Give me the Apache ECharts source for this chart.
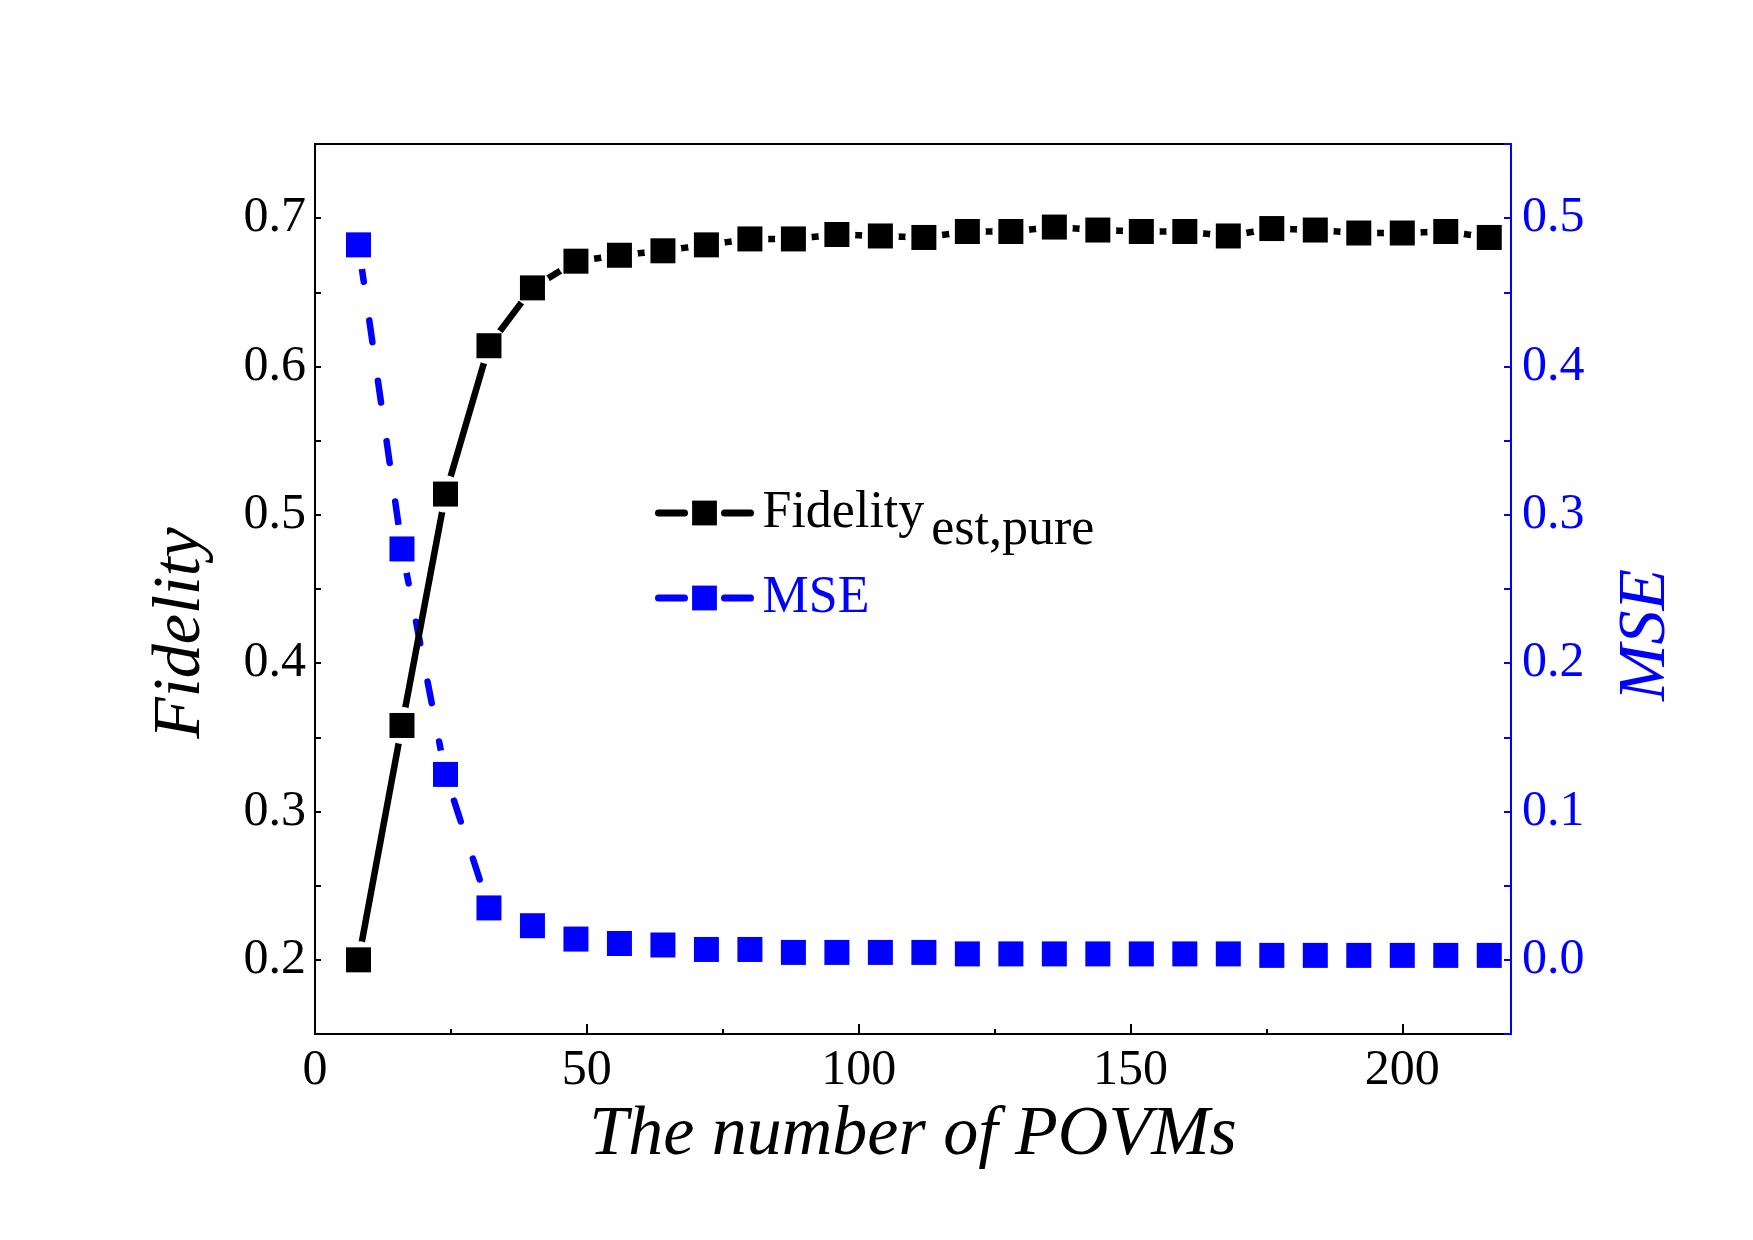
<!DOCTYPE html>
<html>
<head>
<meta charset="utf-8">
<script src="https://cdn.jsdelivr.net/npm/echarts@6/dist/echarts.min.js"></script>
<style>
html,body{margin:0;padding:0;background:#fff;}
#chart{width:1753px;height:1240px;}
</style>
</head>
<body>
<div id="chart"></div>
<script>
// ---- data ----
const povms = [8,16,24,32,40,48,56,64,72,80,88,96,104,112,120,128,136,144,152,160,168,176,184,192,200,208,216];
const fidelity = [0.200,0.358,0.514,0.614,0.653,0.671,0.675,0.678,0.682,0.686,0.686,0.689,0.688,0.687,0.691,0.691,0.694,0.692,0.691,0.691,0.688,0.693,0.692,0.690,0.690,0.691,0.687];
const mse = [0.482,0.277,0.125,0.035,0.023,0.014,0.011,0.010,0.007,0.007,0.005,0.005,0.005,0.005,0.004,0.004,0.004,0.004,0.004,0.004,0.004,0.003,0.003,0.003,0.003,0.003,0.003];
const xTickLabels = [0,50,100,150,200];
const fidTickLabels = [0.2,0.3,0.4,0.5,0.6,0.7];
const mseTickLabels = [0,0.1,0.2,0.3,0.4,0.5];

const FONT = "'Liberation Serif','Times New Roman',serif";
const BLUE = '#0000ff';
const BLACK = '#000000';

const fidPts = povms.map((x, i) => [x, fidelity[i]]);
const msePts = povms.map((x, i) => [x, mse[i]]);

function roundLabel(v, list) {
  const r = Math.round(v * 100) / 100;
  return list.includes(r) ? r.toFixed(1) : '';
}

const legendLine = {type: [26, 40], dashOffset: 0, cap: 'round', width: 7};

const chart = echarts.init(document.getElementById('chart'), null, {renderer: 'canvas'});
chart.setOption({
  animation: false,
  backgroundColor: '#ffffff',
  grid: {
    left: 315, right: 242, top: 144, bottom: 206,
    containLabel: false, outerBoundsMode: 'none',
    show: true, borderColor: BLACK, borderWidth: 2, backgroundColor: 'transparent'
  },
  legend: {
    show: true, orient: 'vertical', left: 655, top: 470, padding: 0,
    itemGap: 16, itemWidth: 92, itemHeight: 31,
    selectedMode: false,
    data: [
      {name: 'Fidelity', lineStyle: Object.assign({color: BLACK}, legendLine)},
      {name: 'MSE', lineStyle: Object.assign({color: BLUE}, legendLine)}
    ],
    lineStyle: legendLine,
    formatter: function (n) {
      return n === 'Fidelity' ? '{a|Fidelity}{b|est,pure}' : '{m|MSE}';
    },
    textStyle: {
      fontFamily: FONT,
      rich: {
        a: {fontFamily: FONT, fontSize: 52, lineHeight: 52, color: BLACK, padding: [17, 0, 17, 7]},
        b: {fontFamily: FONT, fontSize: 52, lineHeight: 52, color: BLACK, padding: [34, 0, 0, 7]},
        m: {fontFamily: FONT, fontSize: 52, lineHeight: 52, color: BLUE, padding: [0, 0, 0, 7]}
      }
    }
  },
  xAxis: [
    {
      type: 'value', min: 0, max: 220, interval: 50, position: 'bottom', z: 10,
      axisLine: {show: true, onZero: false, lineStyle: {color: BLACK, width: 2}},
      axisTick: {show: true, inside: true, length: 10, lineStyle: {color: BLACK, width: 2}},
      axisLabel: {fontFamily: FONT, fontSize: 50, color: BLACK, margin: 12,
        formatter: v => xTickLabels.includes(v) ? String(v) : ''},
      splitLine: {show: false},
      name: 'The number of POVMs', nameLocation: 'middle', nameGap: 66,
      nameTextStyle: {fontFamily: FONT, fontStyle: 'italic', fontSize: 70, color: BLACK}
    },
    {
      type: 'value', min: 0, max: 220, interval: 25, position: 'bottom', z: 10,
      axisLine: {show: false, onZero: false},
      axisTick: {show: true, inside: true, length: 5, lineStyle: {color: BLACK, width: 2}},
      axisLabel: {show: false},
      splitLine: {show: false}
    }
  ],
  yAxis: [
    {
      type: 'value', min: 0.15, max: 0.75, interval: 0.05, position: 'left', z: 10,
      axisLine: {show: true, onZero: false, lineStyle: {color: BLACK, width: 2}},
      axisTick: {show: true, inside: true, length: 6, lineStyle: {color: BLACK, width: 2}},
      axisLabel: {fontFamily: FONT, fontSize: 50, color: BLACK, margin: 9,
        formatter: v => roundLabel(v, fidTickLabels)},
      splitLine: {show: false},
      name: 'Fidelity', nameLocation: 'middle', nameGap: 100, nameRotate: 90,
      nameTextStyle: {fontFamily: FONT, fontStyle: 'italic', fontSize: 68, color: BLACK, padding: [0, 88, 0, 0]}
    },
    {
      type: 'value', min: -0.05, max: 0.55, interval: 0.05, position: 'right', z: 11,
      axisLine: {show: true, onZero: false, lineStyle: {color: BLUE, width: 2}},
      axisTick: {show: true, inside: true, length: 7, lineStyle: {color: BLUE, width: 2}},
      axisLabel: {fontFamily: FONT, fontSize: 50, color: BLUE, margin: 11,
        formatter: v => roundLabel(v, mseTickLabels)},
      splitLine: {show: false},
      name: 'MSE', nameLocation: 'middle', nameGap: 101, nameRotate: 90,
      nameTextStyle: {fontFamily: FONT, fontStyle: 'italic', fontSize: 68, color: BLUE, padding: [0, 92, 0, 0]}
    }
  ],
  series: [
    {
      name: 'MSE', type: 'line', xAxisIndex: 0, yAxisIndex: 1, data: msePts, z: 2,
      symbol: 'rect', symbolSize: 25, showSymbol: true,
      itemStyle: {color: BLUE, opacity: 1},
      lineStyle: {color: BLUE, width: 6.5, type: [22, 39], dashOffset: 45.75, cap: 'round'},
      emphasis: {disabled: true}
    },
    {
      name: 'Fidelity', type: 'line', xAxisIndex: 0, yAxisIndex: 0, data: fidPts, z: 3,
      symbol: 'rect', symbolSize: 25, showSymbol: true,
      itemStyle: {color: BLACK, opacity: 1},
      lineStyle: {color: BLACK, width: 6.5, type: 'solid', cap: 'round'},
      emphasis: {disabled: true}
    },
    {
      name: 'fidHalo', type: 'scatter', xAxisIndex: 0, yAxisIndex: 0, data: fidPts, z: 4, silent: true,
      symbol: 'circle', symbolSize: 37, itemStyle: {color: '#ffffff', opacity: 1}, emphasis: {disabled: true}
    },
    {
      name: 'mseHalo', type: 'scatter', xAxisIndex: 0, yAxisIndex: 1, data: msePts, z: 4, silent: true,
      symbol: 'circle', symbolSize: 49, itemStyle: {color: '#ffffff', opacity: 1}, emphasis: {disabled: true}
    },
    {
      name: 'fidMarks', type: 'scatter', xAxisIndex: 0, yAxisIndex: 0, data: fidPts, z: 5, silent: true,
      symbol: 'rect', symbolSize: 25, itemStyle: {color: BLACK, opacity: 1}, emphasis: {disabled: true}
    },
    {
      name: 'mseMarks', type: 'scatter', xAxisIndex: 0, yAxisIndex: 1, data: msePts, z: 5, silent: true,
      symbol: 'rect', symbolSize: 25, itemStyle: {color: BLUE, opacity: 1}, emphasis: {disabled: true}
    }
  ]
});
</script>
</body>
</html>
